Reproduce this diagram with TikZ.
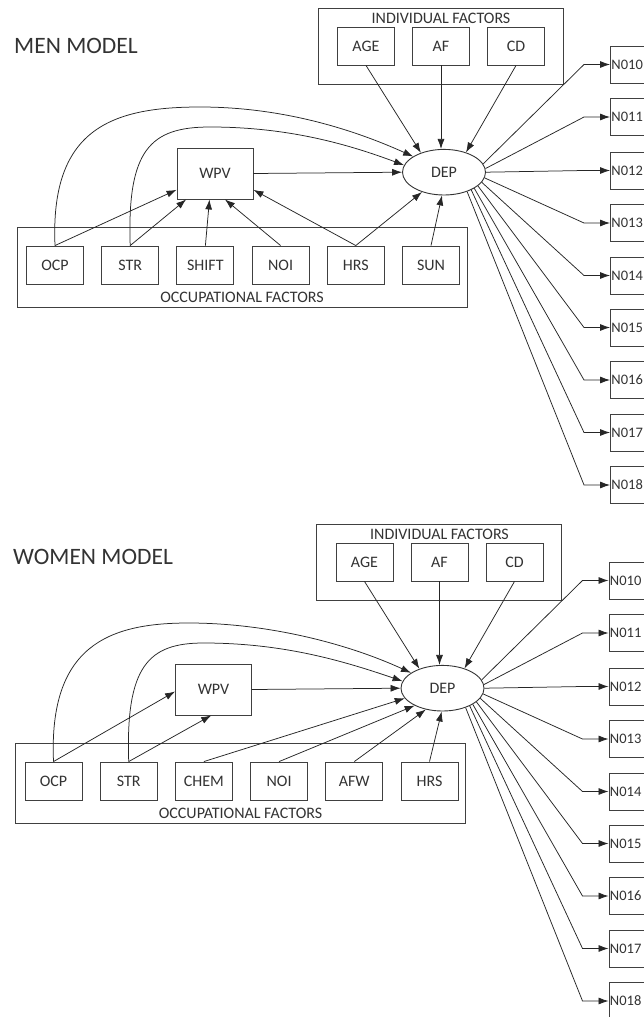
\documentclass[tikz,border=0pt]{standalone}
\usepackage{fontspec}
\setmainfont{Carlito}
\usetikzlibrary{shapes.geometric,arrows.meta}
\begin{document}
\begin{tikzpicture}[x=1pt,y=-1pt,
  every node/.style={font=\fontsize{16}{19}\selectfont, text=black!80},
  fbox/.style={draw=black!75, line width=0.9pt, minimum width=57pt, minimum height=38pt, inner sep=0pt},
  gbox/.style={draw=black!75, line width=0.9pt, inner sep=0pt},
  depnode/.style={draw=black!80, line width=0.9pt, ellipse, minimum width=83pt, minimum height=45.6pt, inner sep=0pt},
  nbox/.style={draw=black!75, line width=0.9pt, anchor=west, minimum height=37pt, inner xsep=1pt, inner ysep=0pt, text width=48pt, align=left, font=\fontsize{14.5}{17}\selectfont},
  arr/.style={line width=0.75pt, draw=black!85, -{Latex[length=10pt,width=7pt]}},
  mtitle/.style={font=\fontsize{23.5}{28}\selectfont, anchor=west, inner sep=0pt}
]
\fill[white] (0,0) rectangle (644,1017);
\useasboundingbox (0,0) rectangle (644,1017);
\clip (0,0) rectangle (644,1017);

% ---------------- MEN MODEL ----------------
\begin{scope}[name prefix=m-]
\node[mtitle] (title) at (14,46) {MEN MODEL};
\node[gbox, minimum width=245pt, minimum height=76pt] (ind) at (440.5,46) {};
\node (indlab) at (441,18) {INDIVIDUAL FACTORS};
\node[fbox] (AGE) at (366,46) {AGE};
\node[fbox] (AF) at (441,46) {AF};
\node[fbox] (CD) at (516,46) {CD};
\node[gbox, minimum width=450pt, minimum height=80pt] (occ) at (242,267) {};
\node (occlab) at (242,297) {OCCUPATIONAL FACTORS};
\node[fbox] (OCP) at (55,265) {OCP};
\node[fbox] (STR) at (130.2,265) {STR};
\node[fbox] (SHIFT) at (205.4,265) {SHIFT};
\node[fbox] (NOI) at (280.6,265) {NOI};
\node[fbox] (HRS) at (355.8,265) {HRS};
\node[fbox] (SUN) at (431,265) {SUN};
\node[fbox, minimum width=76pt, minimum height=51pt] (WPV) at (215,173.5) {WPV};
\node[depnode] (DEP) at (444,172.2) {DEP};
\foreach \i/\y in {0/64.5,1/117,2/170.5,3/223,4/275.5,5/327.5,6/380,7/432.5,8/485}
  \node[nbox] (N\i) at (610,\y) {N01\i};

\draw[arr] (AGE.south) -- (DEP.140);
\draw[arr] (AF.south) -- (AF.south |- DEP.95);
\draw[arr] (CD.south) -- (DEP.42);
\draw[arr] (WPV.east) -- (DEP.west);
\draw[arr] (OCP.north) .. controls (50,130) and (110,107) .. (200,107)
   .. controls (280,107) and (350,128) .. (DEP.153);
\draw[arr] (STR.north) .. controls (127,150) and (150,127) .. (210,127)
   .. controls (290,127) and (350,145) .. (DEP.170);
\draw[arr] (OCP.north) -- (WPV.203);
\draw[arr] (STR.north) -- (WPV.222);
\draw[arr] (SHIFT.north) -- (WPV.258);
\draw[arr] (NOI.north) -- (WPV.291);
\draw[arr] (HRS.north) -- (WPV.337);
\draw[arr] (HRS.north) -- (DEP.222);
\draw[arr] (SUN.north) -- (DEP.265);
\foreach \i/\a in {0/12,1/5,2/0,3/352,4/345,5/338,6/332,7/327,8/320}
  \draw[arr] (DEP.\a) -- ([xshift=-26pt]N\i.west) -- (N\i.west);
\end{scope}

% ---------------- WOMEN MODEL ----------------
\begin{scope}[xshift=-1.5pt, yshift=-516pt, name prefix=w-]
\node[mtitle] (title) at (14.5,41) {WOMEN MODEL};
\node[gbox, minimum width=245pt, minimum height=76pt] (ind) at (440.5,46) {};
\node (indlab) at (441,18) {INDIVIDUAL FACTORS};
\node[fbox] (AGE) at (366,46) {AGE};
\node[fbox] (AF) at (441,46) {AF};
\node[fbox] (CD) at (516,46) {CD};
\node[gbox, minimum width=450pt, minimum height=80pt] (occ) at (242,267) {};
\node (occlab) at (242,297) {OCCUPATIONAL FACTORS};
\node[fbox] (OCP) at (55,265) {OCP};
\node[fbox] (STR) at (130.2,265) {STR};
\node[fbox] (CHEM) at (205.4,265) {CHEM};
\node[fbox] (NOI) at (280.6,265) {NOI};
\node[fbox] (AFW) at (355.8,265) {AFW};
\node[fbox] (HRS) at (431,265) {HRS};
\node[fbox, minimum width=76pt, minimum height=51pt] (WPV) at (215,173.5) {WPV};
\node[depnode] (DEP) at (444,172.2) {DEP};
\foreach \i/\y in {0/64.5,1/117,2/170.5,3/223,4/275.5,5/327.5,6/380,7/432.5,8/485}
  \node[nbox] (N\i) at (610,\y) {N01\i};

\draw[arr] (AGE.south) -- (DEP.140);
\draw[arr] (AF.south) -- (AF.south |- DEP.95);
\draw[arr] (CD.south) -- (DEP.42);
\draw[arr] (WPV.east) -- (DEP.west);
\draw[arr] (OCP.north) .. controls (50,130) and (110,107) .. (190,107)
   .. controls (270,107) and (350,128) .. (DEP.154);
\draw[arr] (STR.north) .. controls (127,150) and (150,127) .. (205,127)
   .. controls (285,127) and (345,145) .. (DEP.170);
\draw[arr] (OCP.north) -- (WPV.183);
\draw[arr] (STR.north) -- (WPV.265);
\draw[arr] (CHEM.north) -- (DEP.195);
\draw[arr] (NOI.north) -- (DEP.212);
\draw[arr] (AFW.north) -- (DEP.232);
\draw[arr] (HRS.north) -- (DEP.268);
\foreach \i/\a in {0/12,1/5,2/0,3/352,4/345,5/338,6/332,7/327,8/320}
  \draw[arr] (DEP.\a) -- ([xshift=-26pt]N\i.west) -- (N\i.west);
\end{scope}
\end{tikzpicture}
\end{document}
